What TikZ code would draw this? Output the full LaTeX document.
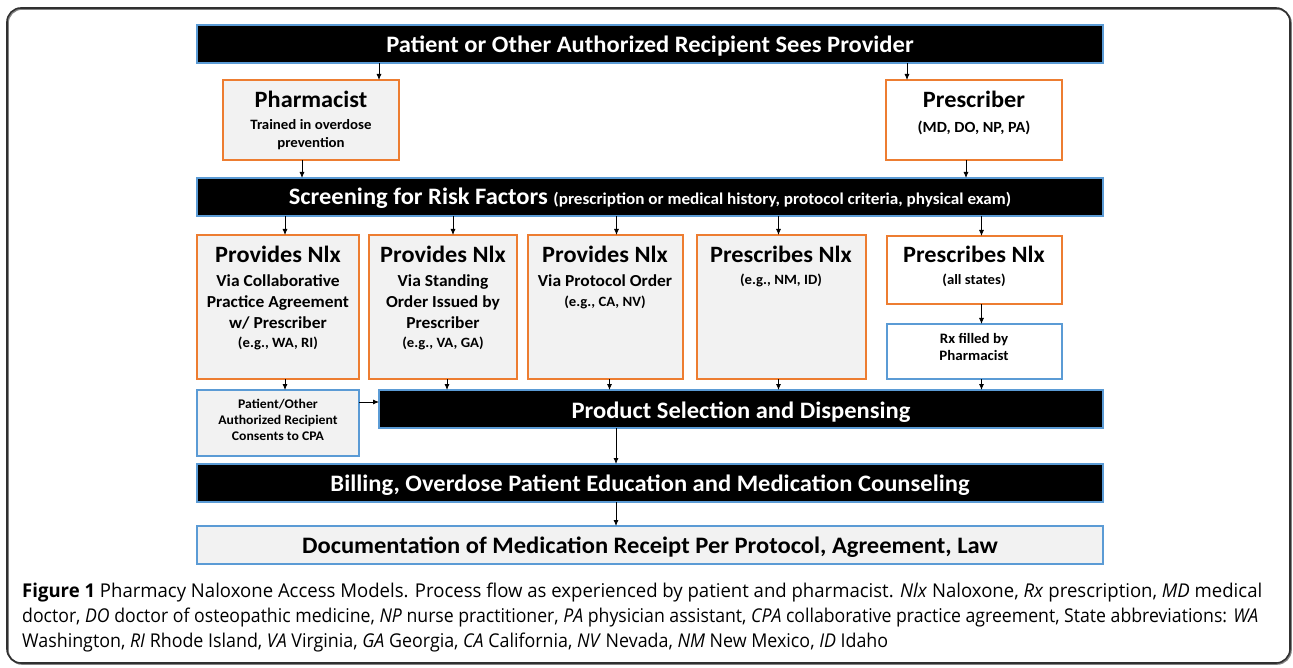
\documentclass[tikz,border=0pt]{standalone}
\usepackage{fontspec}
\usepackage{graphicx}
\setmainfont[FakeStretch=1.04]{Carlito}
\newfontfamily\capfont{Open Sans}
\usetikzlibrary{arrows.meta,calc}
\definecolor{orng}{HTML}{ED7D31}
\definecolor{blu}{HTML}{5B9BD5}
\definecolor{lgray}{HTML}{F2F2F2}
\definecolor{framec}{HTML}{303030}
\newcommand\fs[1]{\fontsize{#1}{#1}\selectfont}
\newcommand\capline[2]{\resizebox{#1pt}{\height}{#2}}
\begin{document}
\begin{tikzpicture}[x=1pt,y=-1pt,
  bx/.style={draw, line width=1.3pt, anchor=north west, inner sep=0pt, outer sep=0pt},
  bar/.style={bx, fill=black, draw=blu},
  obox/.style={bx, draw=orng},
  bbox/.style={bx, draw=blu},
  tl/.style={anchor=base, inner sep=0pt, font=\bfseries},
  wt/.style={tl, text=white},
  arr/.style={-{Latex[length=6pt,width=5pt]}, line width=0.8pt},
  captxt/.style={anchor=base west, inner sep=0pt, font=\capfont\fs{19}}
]
\useasboundingbox (0,0) rectangle (1293,668);
\draw[framec!60, line width=1.6pt, rounded corners=14pt] (8,9) rectangle (1291,664);
\draw[framec, line width=1.6pt, rounded corners=14pt] (7,8) rectangle (1290,663);

% boxes
\node[bar, minimum width=906, minimum height=38] (top) at (197,25) {};
\node[obox, fill=lgray, minimum width=176, minimum height=80] (pharm) at (223,80) {};
\node[obox, fill=white, minimum width=176, minimum height=80] (presc) at (886,80) {};
\node[bar, minimum width=906, minimum height=38] (screen) at (197,178) {};
\node[obox, fill=lgray, minimum width=162, minimum height=144] (p1) at (197,235) {};
\node[obox, fill=lgray, minimum width=148, minimum height=144] (p2) at (369,235) {};
\node[obox, fill=lgray, minimum width=155, minimum height=144] (p3) at (528,235) {};
\node[obox, fill=lgray, minimum width=169, minimum height=144] (p4) at (697,235) {};
\node[obox, fill=white, minimum width=175, minimum height=68] (p5) at (887,236) {};
\node[bbox, fill=white, minimum width=175, minimum height=55] (rx) at (887,324) {};
\node[bbox, fill=lgray, minimum width=162, minimum height=66] (cons) at (197,390) {};
\node[bar, minimum width=724, minimum height=38] (prod) at (379,390) {};
\node[bar, minimum width=906, minimum height=38] (bill) at (197,464) {};
\node[bbox, fill=lgray, minimum width=906, minimum height=38] (doc) at (197,526) {};

% texts
\node[wt, font=\bfseries\fs{23.6}] (topt) at (650,53) {Patient or Other Authorized Recipient Sees Provider};
\node[tl, font=\bfseries\fs{23.4}] (pharmt) at (311,108) {Pharmacist};
\node[tl, font=\bfseries\fs{14.3}] (pharms1) at (311,130) {Trained in overdose};
\node[tl, font=\bfseries\fs{14.3}] (pharms2) at (311,148) {prevention};
\node[tl, font=\bfseries\fs{23.4}] (presct) at (974,108) {Prescriber};
\node[tl, font=\bfseries\fs{15.5}] (prescs) at (974,133) {(MD, DO, NP, PA)};
\node[wt, font=\bfseries\fs{23.6}] (screent) at (650,205) {Screening for Risk Factors {\fs{16.5}(prescription or medical history, protocol criteria, physical exam)}};

\node[tl, font=\bfseries\fs{23.4}] (p1t) at (278,263) {Provides Nlx};
\node[tl, font=\bfseries\fs{16.8}] (p1a) at (278,287) {Via Collaborative};
\node[tl, font=\bfseries\fs{16.8}] (p1b) at (278,308) {Practice Agreement};
\node[tl, font=\bfseries\fs{16.8}] (p1c) at (278,329) {w/ Prescriber};
\node[tl, font=\bfseries\fs{14.2}] (p1d) at (278,348) {(e.g., WA, RI)};

\node[tl, font=\bfseries\fs{23.4}] (p2t) at (443,263) {Provides Nlx};
\node[tl, font=\bfseries\fs{16.8}] (p2a) at (443,287) {Via Standing};
\node[tl, font=\bfseries\fs{16.8}] (p2b) at (443,308) {Order Issued by};
\node[tl, font=\bfseries\fs{16.8}] (p2c) at (443,329) {Prescriber};
\node[tl, font=\bfseries\fs{14.2}] (p2d) at (443,348) {(e.g., VA, GA)};

\node[tl, font=\bfseries\fs{23.4}] (p3t) at (605,263) {Provides Nlx};
\node[tl, font=\bfseries\fs{16.8}] (p3a) at (605,287) {Via Protocol Order};
\node[tl, font=\bfseries\fs{14.2}] (p3b) at (605,306) {(e.g., CA, NV)};

\node[tl, font=\bfseries\fs{23.4}] (p4t) at (781,263) {Prescribes Nlx};
\node[tl, font=\bfseries\fs{14.2}] (p4a) at (781,285) {(e.g., NM, ID)};

\node[tl, font=\bfseries\fs{23.4}] (p5t) at (974,263) {Prescribes Nlx};
\node[tl, font=\bfseries\fs{14.2}] (p5a) at (974,285) {(all states)};

\node[tl, font=\bfseries\fs{14.4}] (rxa) at (974,343) {Rx filled by};
\node[tl, font=\bfseries\fs{14.4}] (rxb) at (974,360) {Pharmacist};

\node[tl, font=\bfseries\fs{13.2}] (consa) at (278,408) {Patient/Other};
\node[tl, font=\bfseries\fs{13.2}] (consb) at (278,424) {Authorized Recipient};
\node[tl, font=\bfseries\fs{13.2}] (consc) at (278,440) {Consents to CPA};

\node[wt, font=\bfseries\fs{23.6}] (prodt) at (741,418) {Product Selection and Dispensing};
\node[wt, font=\bfseries\fs{23.6}] (billt) at (650,491) {Billing, Overdose Patient Education and Medication Counseling};
\node[tl, font=\bfseries\fs{23.6}] (doct) at (650,553) {Documentation of Medication Receipt Per Protocol, Agreement, Law};

% arrows
\draw[arr] ([xshift=68]pharm.north |- top.south) -- ([xshift=68]pharm.north);
\draw[arr] ([xshift=-67]presc.north |- top.south) -- ([xshift=-67]presc.north);
\draw[arr] ([xshift=-9]pharm.south) -- ([xshift=-9]pharm.south |- screen.north);
\draw[arr] ([xshift=-8]presc.south) -- ([xshift=-8]presc.south |- screen.north);
\draw[arr] ([xshift=7]p1.north |- screen.south) -- ([xshift=7]p1.north);
\draw[arr] ([xshift=10]p2.north |- screen.south) -- ([xshift=10]p2.north);
\draw[arr] ([xshift=11]p3.north |- screen.south) -- ([xshift=11]p3.north);
\draw[arr] ([xshift=-3]p4.north |- screen.south) -- ([xshift=-3]p4.north);
\draw[arr] ([xshift=7]p5.north |- screen.south) -- ([xshift=7]p5.north);
\draw[arr] ([xshift=7]p1.south) -- ([xshift=7]cons.north);
\draw[arr] ([xshift=4]p2.south) -- ([xshift=4]p2.south |- prod.north);
\draw[arr] ([xshift=4]p3.south) -- ([xshift=4]p3.south |- prod.north);
\draw[arr] ([xshift=-3]p4.south) -- ([xshift=-3]p4.south |- prod.north);
\draw[arr] ([xshift=7]p5.south) -- ([xshift=7]rx.north);
\draw[arr] ([xshift=7]rx.south) -- ([xshift=7]rx.south |- prod.north);
\draw[arr] ([yshift=21]cons.east) -- ([yshift=21]cons.east -| prod.west);
\draw[arr] ([xshift=-125]prod.south) -- ([xshift=-125]prod.south |- bill.north);
\draw[arr] ([xshift=-34]bill.south) -- ([xshift=-34]doc.north);

% caption
\node[captxt] (cap1) at (22,597) {\capline{1240}{{\bfseries Figure 1} Pharmacy Naloxone Access Models. Process flow as experienced by patient and pharmacist. \emph{Nlx} Naloxone, \emph{Rx} prescription, \emph{MD} medical}};
\node[captxt] (cap2) at (22,622) {\capline{1236}{doctor, \emph{DO} doctor of osteopathic medicine, \emph{NP} nurse practitioner, \emph{PA} physician assistant, \emph{CPA} collaborative practice agreement, State abbreviations: \emph{WA}}};
\node[captxt] (cap3) at (22,647) {\capline{866}{Washington, \emph{RI} Rhode Island, \emph{VA} Virginia, \emph{GA} Georgia, \emph{CA} California, \emph{NV} Nevada, \emph{NM} New Mexico, \emph{ID} Idaho}};
\end{tikzpicture}
\end{document}
